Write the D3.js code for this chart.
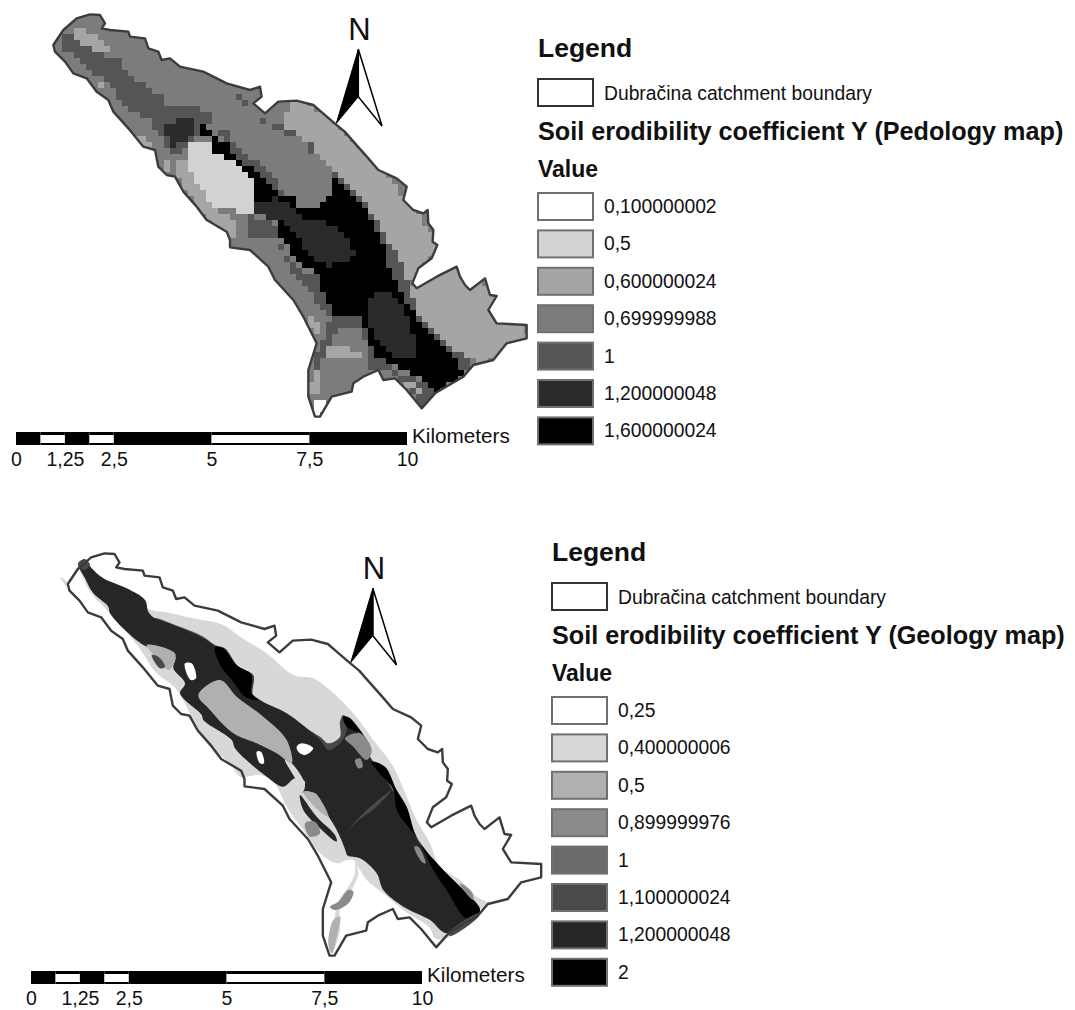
<!DOCTYPE html>
<html>
<head>
<meta charset="utf-8">
<title>Soil erodibility coefficient Y</title>
<script src="https://cdn.jsdelivr.net/npm/d3@7"></script>
<style>
    body { margin: 0; background: #fff; }
    text { font-family: "Liberation Sans", Arial, sans-serif; fill: #111; }
    .bold { font-weight: bold; }
</style>
</head>
<body>
<div id="chart"></div>
<script>
// Legend entries
var pedologyValues = ["0,100000002", "0,5", "0,600000024", "0,699999988", "1", "1,200000048", "1,600000024"];
var geologyValues = ["0,25", "0,400000006", "0,5", "0,899999976", "1", "1,100000024", "1,200000048", "2"];

// Scale bar, in kilometers
var barBreaks = [0, 0.625, 1.25, 1.875, 2.5, 5, 7.5, 10];
var barLabels = [0, 1.25, 2.5, 5, 7.5, 10];

// Catchment boundary in map grid units
var catchment = [[160,135],[190,90],[230,55],[270,43],[300,45],[315,70],[305,85],[330,90],[385,95],[390,110],[435,115],[445,145],[475,155],[485,180],[510,175],[540,200],[610,215],[680,250],[750,270],[780,260],[785,290],[760,310],[795,340],[835,305],[890,302],[940,315],[963,335],[1004,370],[1034,395],[1065,430],[1105,475],[1135,510],[1190,535],[1220,560],[1210,600],[1240,630],[1270,640],[1283,630],[1285,670],[1300,690],[1298,725],[1312,735],[1295,775],[1255,805],[1237,850],[1250,865],[1310,830],[1370,800],[1380,830],[1395,855],[1410,870],[1455,835],[1470,885],[1490,888],[1465,930],[1490,970],[1580,975],[1580,1015],[1520,1030],[1480,1080],[1420,1095],[1390,1130],[1305,1180],[1265,1225],[1220,1170],[1185,1135],[1150,1140],[1135,1110],[1090,1130],[1060,1150],[1055,1175],[995,1190],[960,1250],[945,1250],[925,1190],[925,1110],[950,1030],[910,950],[880,900],[825,840],[805,800],[750,750],[690,742],[690,720],[680,695],[620,660],[590,620],[550,575],[525,530],[500,525],[475,500],[465,450],[430,440],[385,385],[340,335],[325,300],[290,275],[260,235],[220,220],[195,185],[165,155]];

// Pedology zones: [legend value, outline]. Later zones sit on top of earlier ones
var pedologyZones = [
    ["0,600000024", [[845,350],[890,290],[1000,360],[1140,500],[1320,730],[1225,860],[1340,790],[1490,870],[1590,1010],[1420,1105],[1420,1075],[1370,1060],[1300,990],[1260,950],[1225,870],[1215,810],[1180,745],[1115,640],[1080,585],[1035,545],[1000,510],[960,470],[905,420],[890,400],[845,375]]],
    ["1", [[190,105],[215,105],[250,135],[325,170],[365,180],[380,220],[445,260],[485,290],[485,315],[630,330],[635,375],[580,415],[575,445],[510,465],[480,400],[440,350],[360,315],[340,260],[250,195],[195,150]]],
    ["0,600000024", [[215,85],[240,75],[260,100],[315,120],[330,165],[250,135],[215,100]]],
    ["0,600000024", [[280,245],[310,255],[335,300],[325,295]]],
    ["0,600000024", [[405,395],[450,435],[430,440],[405,410]]],
    ["0,600000024", [[480,475],[505,480],[520,520],[490,520]]],
    ["0,600000024", [[530,490],[550,480],[600,560],[640,630],[690,640],[695,680],[650,650],[590,620],[530,530]]],
    ["0,600000024", [[580,620],[650,650],[705,670],[705,720],[680,720],[630,670]]],
    ["1", [[695,275],[720,280],[760,320],[720,310]]],
    ["1", [[780,360],[820,365],[900,410],[860,405]]],
    ["1", [[905,420],[930,415],[960,470],[945,470]]],
    ["1", [[640,400],[680,395],[710,440],[790,500],[850,570],[870,590],[840,590],[750,500],[700,470],[680,420]]],
    ["1,600000024", [[602,380],[625,380],[640,415],[680,420],[700,470],[750,500],[800,550],[840,590],[890,590],[895,630],[960,630],[960,660],[890,660],[840,620],[770,605],[760,540],[700,480],[640,460],[635,415],[602,415]]],
    ["1", [[1000,510],[1035,545],[1080,585],[1115,640],[1180,745],[1215,810],[1225,870],[1260,950],[1300,990],[1370,1060],[1420,1075],[1415,1100],[1390,1125],[1350,1050],[1260,980],[1230,920],[1190,850],[1150,775],[1160,750],[1100,625],[1040,570],[1000,535]]],
    ["1,600000024", [[1005,535],[1040,570],[1100,625],[1160,750],[1150,775],[1190,850],[1230,920],[1260,980],[1350,1050],[1390,1120],[1305,1180],[1280,1150],[1180,1090],[1120,1060],[1080,980],[995,940],[970,880],[955,830],[880,770],[835,700],[835,660],[895,650],[960,625],[1000,580]]],
    ["1,200000048", [[485,365],[575,360],[575,410],[550,425],[515,440],[495,400]]],
    ["1,200000048", [[770,605],[835,595],[890,630],[895,650],[950,660],[1010,675],[1065,750],[1060,775],[985,800],[940,770],[870,690],[835,660],[765,645]]],
    ["1,200000048", [[1095,920],[1125,875],[1170,875],[1215,920],[1230,980],[1255,1040],[1250,1065],[1190,1075],[1150,1040],[1110,980]]],
    ["0,5", [[580,415],[635,430],[640,460],[700,480],[760,540],[765,650],[695,630],[640,630],[600,560],[555,480]]],
    ["1", [[750,650],[810,660],[835,700],[835,715],[750,710]]],
    ["1", [[835,715],[870,775],[935,830],[955,830],[995,940],[975,940],[940,890],[880,830],[840,750]]],
    ["0,600000024", [[910,945],[945,950],[965,1000],[950,1010]]],
    ["1", [[995,940],[1080,945],[1095,975],[1020,980],[990,1040],[965,1070],[955,1110],[940,1130],[935,1090],[955,1040],[985,980]]],
    ["1", [[1095,975],[1120,1060],[1180,1090],[1190,1135],[1170,1110],[1135,1115],[1105,1120],[1105,1080],[1110,1050],[1080,990]]],
    ["0,600000024", [[985,1040],[1020,1035],[1080,1060],[1075,1070],[975,1070]]],
    ["0,600000024", [[930,1150],[955,1110],[960,1170],[940,1200],[925,1180]]],
    ["1", [[1185,1130],[1270,1140],[1300,1165],[1300,1190],[1270,1225],[1240,1190]]],
    ["0,600000024", [[1190,1140],[1240,1150],[1270,1190]]],
    ["0,100000002", [[935,1155],[950,1155],[950,1200],[935,1190]]],
    ["0,100000002", [[950,1205],[995,1195],[960,1255],[950,1250]]]
];

// Geology zones, these were digitized as vectors
var geologyZones = [
    ["0,400000006", [[455,240],[490,245],[580,265],[670,285],[720,320],[800,370],[880,435],[940,445],[990,480],[1060,550],[1120,630],[1180,710],[1220,800],[1250,870],[1290,940],[1320,1010],[1380,1050],[1430,1100],[1465,1120],[1440,1140],[1340,1225],[1305,1225],[1290,1195],[1210,1140],[1150,1090],[1100,1050],[1080,1020],[1060,990],[1040,990],[1010,1000],[950,960],[910,900],[880,860],[860,830],[820,755],[780,735],[720,740],[690,700],[630,650],[575,560],[535,485],[510,460],[470,430],[415,350],[330,250],[270,185],[250,145],[235,100]]],
    ["0,400000006", [[180,140],[200,155],[200,170],[185,150]]],
    ["0,400000006", [[1065,990],[1065,1030],[1045,1070],[1015,1115],[1000,1180],[985,1240],[995,1270],[1020,1200],[1020,1140],[1060,1070],[1075,1030]]],
    ["0,5", [[985,1240],[1000,1170],[1020,1160],[1015,1200],[995,1270]]],
    ["1,100000024", [[465,265],[525,285],[610,320],[645,345],[675,355],[715,410],[760,435],[760,500],[820,535],[910,590],[960,620],[985,640],[1020,620],[1020,575],[1030,555],[1050,590],[1020,650],[985,665],[960,640],[860,560],[780,520]]],
    ["1,200000048", [[235,100],[255,88],[275,115],[310,145],[380,175],[435,210],[445,245],[465,265],[520,285],[610,325],[645,350],[680,400],[720,460],[780,510],[860,550],[960,630],[985,660],[1020,640],[1040,600],[1030,560],[1050,565],[1110,680],[1185,790],[1260,940],[1330,1020],[1440,1140],[1430,1160],[1340,1210],[1290,1170],[1210,1130],[1150,1080],[1130,1030],[1080,985],[1040,975],[1020,925],[980,880],[950,820],[905,790],[915,755],[885,745],[850,770],[800,740],[750,700],[705,655],[695,630],[610,570],[605,555],[540,490],[555,460],[520,415],[525,380],[430,345],[330,250],[325,230],[280,190],[255,145]]],
    ["0,400000006", [[855,690],[875,700],[915,765],[905,790],[885,745]]],
    ["0,400000006", [[905,790],[945,790],[980,850],[1015,910],[1040,985],[1020,980],[1005,915],[950,860]]],
    ["0,5", [[910,785],[945,790],[985,860],[960,845]]],
    ["1,200000048", [[900,795],[950,860],[1005,915],[1010,935],[955,890],[910,840]]],
    ["0,5", [[595,495],[660,450],[710,500],[790,560],[860,630],[875,700],[830,670],[770,640],[700,610],[630,540]]],
    ["1,100000024", [[1040,905],[1100,840],[1175,780],[1130,830],[1070,875]]],
    ["2", [[645,350],[670,355],[710,405],[755,435],[755,490],[775,510],[735,500],[700,455],[660,405]]],
    ["2", [[1115,695],[1155,710],[1190,780],[1220,830],[1250,920],[1320,1010],[1380,1070],[1440,1140],[1400,1165],[1340,1080],[1300,1020],[1255,930],[1190,840],[1180,780],[1130,720]]],
    ["2", [[1030,560],[1050,565],[1110,645],[1080,610],[1040,590]]],
    ["0,5", [[440,345],[525,370],[520,405],[505,420],[470,385]]],
    ["1,100000024", [[455,375],[475,380],[495,410],[480,415]]],
    ["0,899999976", [[1035,625],[1080,610],[1115,660],[1100,690],[1060,650]]],
    ["0,899999976", [[915,880],[945,875],[960,910],[930,920]]],
    ["0,899999976", [[990,1130],[1015,1115],[1045,1080],[1060,1085],[1045,1120],[1005,1140]]],
    ["0,899999976", [[1065,690],[1080,685],[1088,710],[1075,715]]],
    ["0,899999976", [[1243,950],[1255,950],[1277,1000],[1265,995]]],
    ["0,899999976", [[1380,1060],[1415,1085],[1420,1110],[1390,1080]]],
    ["1,100000024", [[1345,1210],[1435,1150],[1435,1160],[1350,1218]]],
    ["1,100000024", [[235,100],[255,88],[270,105],[250,120]]],
    ["0,25", [[555,400],[575,400],[588,445],[573,450],[558,425]]],
    ["0,25", [[890,650],[905,640],[940,655],[915,675],[895,665]]],
    ["0,25", [[770,665],[783,665],[792,700],[780,700]]]
];

// North arrow in map grid units: black half, white half
var arrowLeft = [[1075,148],[1075,290],[1009,370]];
var arrowRight = [[1075,148],[1075,290],[1146,378]];

// Set svg dimensions
var svgWidth = 1075;
var svgHeight = 1010;

var svg = d3.select("#chart")
    .append("svg")
    .attr("width", svgWidth)
    .attr("height", svgHeight)
    .style("display", "block");

// Soft edges, the source is a resampled picture
svg.append("filter")
    .attr("id", "soft")
    .append("feGaussianBlur")
    .attr("stdDeviation", 0.6);

// One grey ramp per legend
var pedologyColor = d3.scaleOrdinal()
    .domain(pedologyValues)
    .range(["#ffffff", "#d2d2d2", "#a5a5a5", "#7c7c7c", "#555555", "#2b2b2b", "#000000"]);
var geologyColor = d3.scaleOrdinal()
    .domain(geologyValues)
    .range(["#ffffff", "#d8d8d8", "#b0b0b0", "#8a8a8a", "#6b6b6b", "#4a4a4a", "#262626", "#000000"]);

// Create function to build the scales of a panel from its offset
function panelScales(dx, dy) {
    return {
        x: d3.scaleLinear().domain([0, 1590]).range([dx, dx + 530]),
        y: d3.scaleLinear().domain([0, 1440]).range([dy, dy + 480])
    };
}

function polygonPath(scales) {
    return d3.line()
        .x(d => scales.x(d[0]))
        .y(d => scales.y(d[1]))
        .curve(d3.curveLinearClosed);
}

// Pedology map is a raster, so the zones are sampled on a coarse grid
function drawRaster(group, scales, zones, color, baseValue, id) {
    group.append("clipPath")
        .attr("id", id)
        .append("path")
        .attr("d", polygonPath(scales)(catchment));

    var cell = 18;
    var cells = [];
    d3.range(150, 1590, cell).forEach(function(gx) {
        d3.range(30, 1270, cell).forEach(function(gy) {
            var centre = [gx + cell / 2, gy + cell / 2];
            var value = baseValue;
            zones.forEach(function(zone) {
                if (d3.polygonContains(zone[1], centre)) value = zone[0];
            });
            cells.push({ gx: gx, gy: gy, value: value });
        });
    });

    group.append("g")
        .attr("clip-path", `url(#${id})`)
        .append("g")
        .attr("filter", "url(#soft)")
        .selectAll("rect")
        .data(cells)
        .enter()
        .append("rect")
        .attr("x", d => scales.x(d.gx))
        .attr("y", d => scales.y(d.gy))
        .attr("width", scales.x(cell) - scales.x(0) + 0.5)
        .attr("height", scales.y(cell) - scales.y(0) + 0.5)
        .attr("fill", d => color(d.value))
        .attr("shape-rendering", "crispEdges");
}

// Geology edges are rounded, not straight cuts
function drawVector(group, scales, zones, color) {
    var smoothPath = d3.line()
        .x(d => scales.x(d[0]))
        .y(d => scales.y(d[1]))
        .curve(d3.curveCatmullRomClosed.alpha(0.5));

    group.append("g")
        .attr("filter", "url(#soft)")
        .selectAll("path")
        .data(zones)
        .enter()
        .append("path")
        .attr("d", d => smoothPath(d[1]))
        .attr("fill", d => color(d[0]));
}

function drawBoundary(group, scales) {
    group.append("path")
        .attr("d", polygonPath(scales)(catchment))
        .attr("fill", "none")
        .attr("stroke", "#3c3c3c")
        .attr("stroke-width", 2.4)
        .attr("stroke-linejoin", "round");
}

function drawNorthArrow(group, scales) {
    group.append("path")
        .attr("d", polygonPath(scales)(arrowRight))
        .attr("fill", "#fff")
        .attr("stroke", "#000")
        .attr("stroke-width", 1.5);
    group.append("path")
        .attr("d", polygonPath(scales)(arrowLeft))
        .attr("fill", "#000")
        .attr("stroke", "#000");
    group.append("text")
        .attr("x", scales.x(1078))
        .attr("y", scales.y(120))
        .attr("text-anchor", "middle")
        .attr("font-size", 31)
        .text("N");
}

// Scale bar with a real axis for the labels
function drawScaleBar(group, left, top) {
    var barX = d3.scaleLinear().domain([0, 10]).range([left, left + 391]);
    var pairs = d3.pairs(barBreaks);

    group.selectAll(".bar")
        .data(pairs)
        .enter()
        .append("rect")
        .attr("class", "bar")
        .attr("x", d => barX(d[0]))
        .attr("y", top)
        .attr("width", d => barX(d[1]) - barX(d[0]))
        .attr("height", 13)
        .attr("fill", "#000");

    group.selectAll(".gap")
        .data(pairs.filter((d, i) => i % 2 === 1))
        .enter()
        .append("rect")
        .attr("class", "gap")
        .attr("x", d => barX(d[0]))
        .attr("y", top + 3)
        .attr("width", d => barX(d[1]) - barX(d[0]))
        .attr("height", 8)
        .attr("fill", "#fff");

    var axis = d3.axisBottom(barX)
        .tickValues(barLabels)
        .tickSize(0)
        .tickPadding(0)
        .tickFormat(d => String(d).replace(".", ","));

    var axisGroup = group.append("g")
        .attr("transform", `translate(0, ${top + 20})`)
        .call(axis);
    axisGroup.select(".domain").remove();
    axisGroup.selectAll("text")
        .attr("font-size", 19.5)
        .attr("font-family", null)
        .style("fill", "#111");

    group.append("text")
        .attr("x", left + 396)
        .attr("y", top + 11)
        .attr("font-size", 20.7)
        .text("Kilometers");
}

function drawLegend(group, left, top, subtitle, values, color) {
    group.append("text").attr("class", "bold")
        .attr("x", left).attr("y", top + 19)
        .attr("font-size", 26.5)
        .text("Legend");

    group.append("rect")
        .attr("x", left).attr("y", top + 41)
        .attr("width", 55).attr("height", 27)
        .attr("fill", "#fff")
        .attr("stroke", "#333")
        .attr("stroke-width", 2);

    group.append("text")
        .attr("x", left + 66).attr("y", top + 62)
        .attr("font-size", 19.3)
        .text("Dubračina catchment boundary");

    group.append("text").attr("class", "bold")
        .attr("x", left).attr("y", top + 102)
        .attr("font-size", 25.2)
        .text(subtitle);

    group.append("text").attr("class", "bold")
        .attr("x", left).attr("y", top + 139)
        .attr("font-size", 23)
        .text("Value");

    var rowY = d3.scaleLinear().domain([0, 1]).range([top + 155, top + 155 + 37.4]);

    var rows = group.selectAll(".row")
        .data(values)
        .enter()
        .append("g")
        .attr("class", "row")
        .attr("transform", (d, i) => `translate(${left}, ${rowY(i)})`);

    rows.append("rect")
        .attr("width", 55)
        .attr("height", 27)
        .attr("fill", d => color(d))
        .attr("stroke", "#707070")
        .attr("stroke-width", 2);

    rows.append("text")
        .attr("x", 66)
        .attr("y", 20)
        .attr("font-size", 19.3)
        .text(d => d);
}

// Top panel, Pedology map
var topPanel = svg.append("g");
var topScales = panelScales(0, 0);
drawRaster(topPanel, topScales, pedologyZones, pedologyColor, "0,699999988", "catchment-clip");
drawBoundary(topPanel, topScales);
drawNorthArrow(topPanel, topScales);
drawScaleBar(topPanel, 16, 432);
drawLegend(topPanel, 538, 38, "Soil erodibility coefficient Y (Pedology map)", pedologyValues, pedologyColor);

// Bottom panel, Geology map. Its zones were read with the bottom panel's own origin
var bottomPanel = svg.append("g");
var bottomScales = panelScales(14.5, 539);
var geologyScales = panelScales(0, 530);
drawVector(bottomPanel, geologyScales, geologyZones, geologyColor);
drawBoundary(bottomPanel, bottomScales);
drawNorthArrow(bottomPanel, bottomScales);
drawScaleBar(bottomPanel, 31, 971);
drawLegend(bottomPanel, 552, 542, "Soil erodibility coefficient Y (Geology map)", geologyValues, geologyColor);
</script>
</body>
</html>
